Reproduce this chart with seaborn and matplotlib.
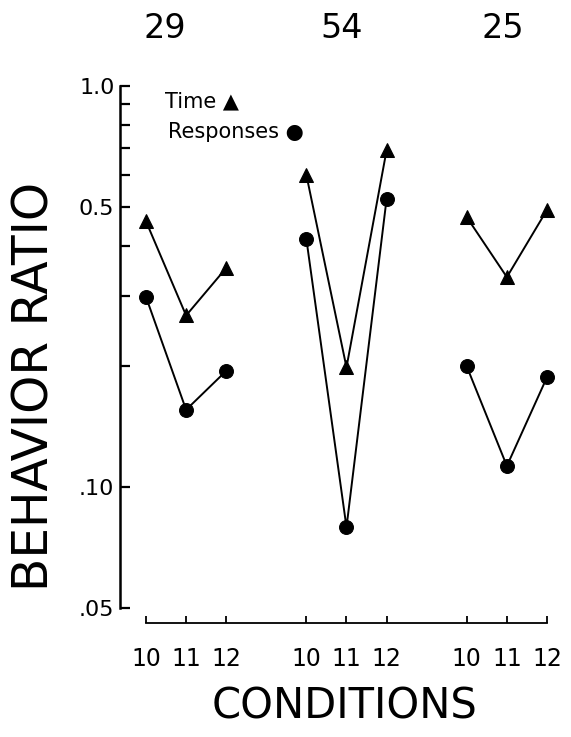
"""
Behavior ratio (log scale) for three subjects across conditions 10-12.
Time (triangles) and responses (circles), one broken line per subject.
"""

import numpy as np
import pandas as pd
import matplotlib
matplotlib.use('Agg')
import matplotlib.pyplot as plt
import seaborn as sns

subjects   = ['29', '54', '25']
conditions = ['10', '11', '12']

# values, one list per subject, conditions 10 / 11 / 12
time_ratio = {
    '29': [0.46, 0.268, 0.352],
    '54': [0.60, 0.199, 0.692],
    '25': [0.471, 0.334, 0.491],
}
resp_ratio = {
    '29': [0.298, 0.156, 0.195],
    '54': [0.415, 0.0795, 0.523],
    '25': [0.200, 0.113, 0.188],
}

y_major      = [1.0, 0.5, 0.10, 0.05]
y_major_text = ['1.0', '0.5', '.10', '.05']
y_minor      = [0.9, 0.8, 0.7, 0.6, 0.4, 0.3, 0.2]


def build_frame() -> pd.DataFrame:
    rows = []
    for g, subj in enumerate(subjects):
        for c, cond in enumerate(conditions):
            pos = g * 4 + c
            rows.append({'subject': subj, 'pos': pos, 'cond': cond,
                         'measure': 'Time', 'ratio': time_ratio[subj][c]})
            rows.append({'subject': subj, 'pos': pos, 'cond': cond,
                         'measure': 'Responses', 'ratio': resp_ratio[subj][c]})
    return pd.DataFrame(rows)


sns.set_style('white')
plt.rcParams['font.family'] = ['DejaVu Sans']
plt.rcParams['text.color'] = 'black'
plt.rcParams['xtick.color'] = 'black'
plt.rcParams['ytick.color'] = 'black'

df = build_frame()

fig = plt.figure(figsize=(5.71, 7.37), dpi=100)
ax = fig.add_axes([0.2102, 0.1547, 0.7723, 0.7286])

markers = {'Time': '^', 'Responses': 'o'}
for subj in subjects:
    for measure, mk in markers.items():
        part = df[(df['subject'] == subj) & (df['measure'] == measure)]
        sns.lineplot(data=part, x='pos', y='ratio', ax=ax, color='black',
                     linewidth=1.4, marker=mk, markersize=10,
                     markeredgecolor='black', markerfacecolor='black',
                     legend=False, clip_on=False)

ax.set_yscale('log')
ax.set_xlim(-0.648, 10.35)
ax.set_ylim(0.0459, 1.0)

ax.set_yticks(y_major)
ax.set_yticklabels(y_major_text)
ax.set_yticks(y_minor, minor=True)
ax.yaxis.set_minor_formatter(matplotlib.ticker.NullFormatter())
ax.tick_params(axis='y', which='both', direction='in', length=7, width=1.6,
               labelsize=16, pad=4, left=True, right=False)

xticks = df['pos'].unique()
ax.set_xticks(xticks)
ax.set_xticklabels(conditions * len(subjects))
ax.tick_params(axis='x', which='both', direction='in', length=5, width=1.3,
               labelsize=17, pad=17, bottom=True, top=False)

for side in ['top', 'right']:
    ax.spines[side].set_visible(False)
ax.spines['left'].set_bounds(0.05, 1.0)
ax.spines['left'].set_linewidth(1.8)
ax.spines['bottom'].set_bounds(xticks.min(), xticks.max())
ax.spines['bottom'].set_linewidth(1.3)
for s in ['left', 'bottom']:
    ax.spines[s].set_color('black')

ax.set_xlabel('')
ax.set_ylabel('')

# legend as text with glyphs
ax.text(0.102, 0.972, 'Time \u25B2', transform=ax.transAxes, fontsize=15,
        va='center', ha='left')
ax.text(0.109, 0.914, 'Responses \u25CF', transform=ax.transAxes, fontsize=15,
        va='center', ha='left')

# subject numbers across the top
for xf, subj in zip([0.289, 0.599, 0.881], subjects):
    fig.text(xf, 0.962, subj, fontsize=24, ha='center', va='center')

fig.text(0.061, 0.476, 'BEHAVIOR RATIO', rotation=90, fontsize=35,
         ha='center', va='center')
fig.text(0.604, 0.041, 'CONDITIONS', fontsize=30, ha='center', va='center')

fig.savefig('out.png', dpi=100)
plt.close(fig)
